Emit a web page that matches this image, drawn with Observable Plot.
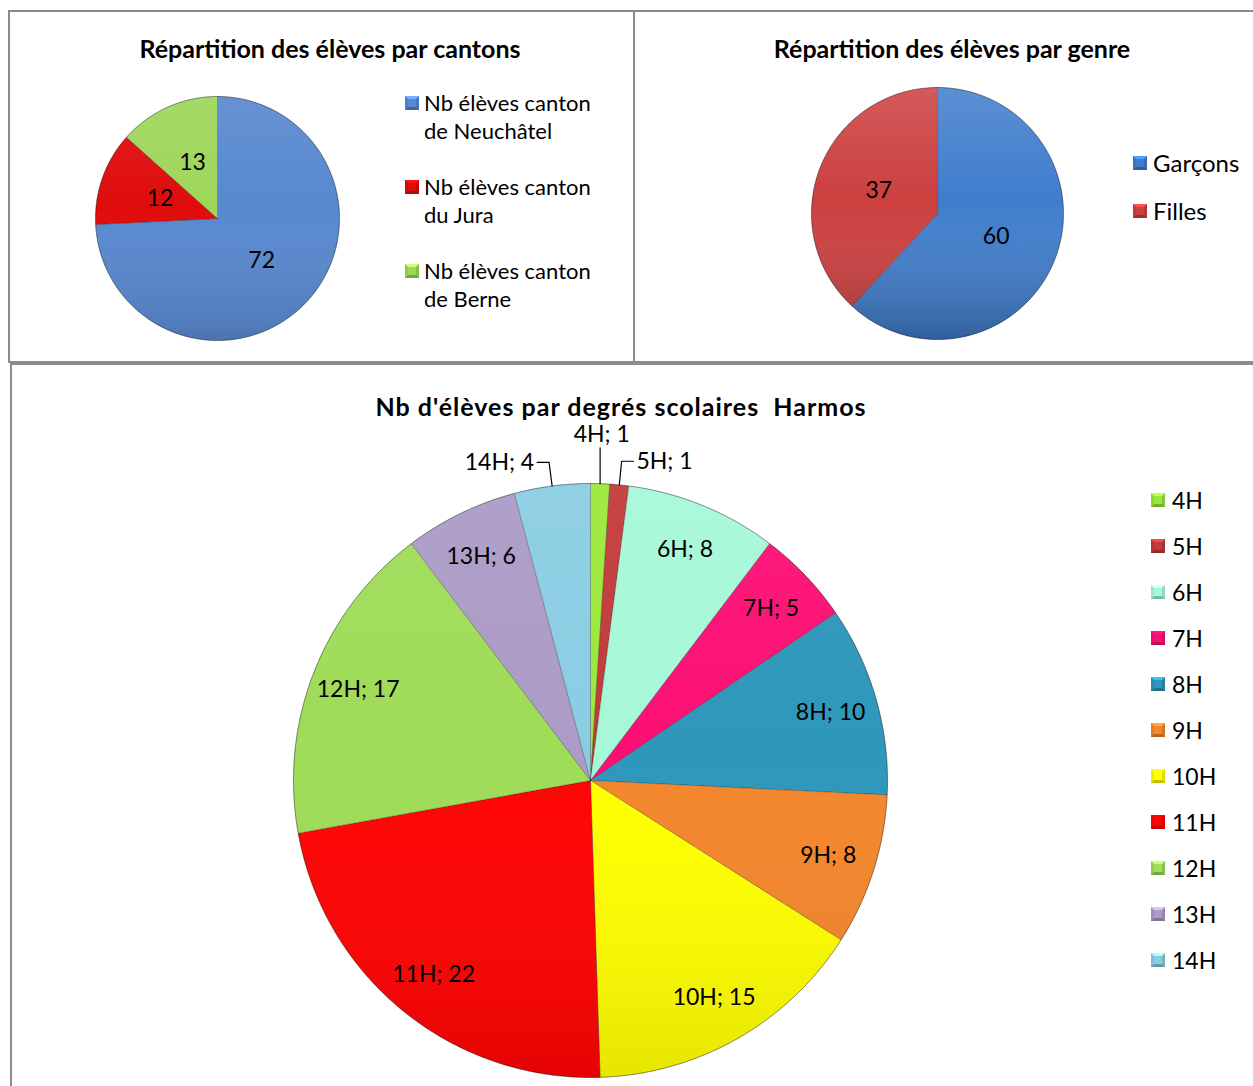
<!DOCTYPE html>
<html><head><meta charset="utf-8">
<script src="https://cdn.jsdelivr.net/npm/d3@7"></script>
<script src="https://cdn.jsdelivr.net/npm/@observablehq/plot@0.6"></script>
<style>
body{margin:0;background:#fff;width:1253px;height:1086px;overflow:hidden;position:relative;font-family:Lato,"Open Sans",sans-serif;color:#000;}
.panel{position:absolute;border:2px solid #8c8c8c;box-sizing:border-box;}
.title{position:absolute;font-weight:bold;font-size:25px;line-height:28px;transform:translateX(-50%);white-space:pre;}
.chart{position:absolute;}
.leg{position:absolute;font-size:22px;line-height:28px;white-space:normal;}
.sw{position:absolute;width:14px;height:14px;box-sizing:border-box;border:3px solid;}
</style></head><body>
<script>
// ---------- data ----------
const cantonLabels = ["Nb élèves canton de Neuchâtel", "Nb élèves canton du Jura", "Nb élèves canton de Berne"];
const cantonValues = [72, 12, 13];
const genreLabels = ["Garçons", "Filles"];
const genreValues = [60, 37];
const degreLabels = ["4H", "5H", "6H", "7H", "8H", "9H", "10H", "11H", "12H", "13H", "14H"];
const degreValues = [1, 1, 8, 5, 10, 8, 15, 22, 17, 6, 4];
const titles = ["Répartition des élèves par cantons", "Répartition des élèves par genre", "Nb d'élèves par degrés scolaires  Harmos"];

// ---------- styles ----------
const cantonColors = ["#5888cf", "#e00c0c", "#9ed65a"];
const genreColors = ["#3f7dcc", "#cc3f3f"];
const degreColors = ["#9be83a", "#c23a3a", "#a6f8d8", "#fc0f74", "#2e97bb", "#f4862c", "#ffff00", "#ff0303", "#9fdc58", "#ab9bc6", "#8acde3"];
const FONT = "Lato, 'Open Sans', sans-serif";

function el(tag, cls, style, text) {
  const e = document.createElement(tag);
  if (cls) e.className = cls;
  Object.assign(e.style, style || {});
  if (text != null) e.textContent = text;
  document.body.appendChild(e);
  return e;
}

// panels
el("div", "panel", {left: "8px", top: "10px", width: "627px", height: "353px"});
el("div", "panel", {left: "633px", top: "10px", width: "640px", height: "353px"});
el("div", "panel", {left: "10px", top: "363px", width: "1260px", height: "740px"});

// titles
el("div", "title", {left: "330px", top: "34px"}, titles[0]);
el("div", "title", {left: "952px", top: "34px"}, titles[1]);
el("div", "title", {left: "621px", top: "392px", letterSpacing: "1px"}, titles[2]);

function swatch(x, yc, color) {
  const c = d3.color(color);
  el("div", "sw", {
    left: x + "px", top: (yc - 7) + "px", background: color,
    borderTopColor: c.brighter(0.7).formatHex(),
    borderLeftColor: c.darker(0.2).formatHex(),
    borderRightColor: c.darker(0.4).formatHex(),
    borderBottomColor: c.darker(0.8).formatHex()
  });
}

function pie(opts) {
  const {id, labels, values, colors, cx, cy, r, box, labelR, fontSize, fmt, shade} = opts;
  const total = d3.sum(values);
  let cum = 0;
  const slices = values.map((v, i) => {
    const a0 = cum / total * 2 * Math.PI; cum += v;
    const a1 = cum / total * 2 * Math.PI;
    return {key: labels[i], value: v, a0, a1, mid: (a0 + a1) / 2, frac: v / total};
  });
  const pts = [];
  for (const s of slices) {
    pts.push({key: s.key, x: 0, y: 0});
    const n = Math.max(2, Math.ceil((s.a1 - s.a0) / (Math.PI / 360)));
    for (let k = 0; k <= n; k++) {
      const a = s.a0 + (s.a1 - s.a0) * k / n;
      pts.push({key: s.key, x: Math.sin(a), y: Math.cos(a)});
    }
    pts.push({key: s.key, x: 0, y: 0});
  }
  const circle = d3.range(0, 721).map(k => ({x: Math.sin(k / 720 * 2 * Math.PI), y: Math.cos(k / 720 * 2 * Math.PI)}));
  const inside = [], outside = [], leaders = [];
  for (const s of slices) {
    const sx = Math.sin(s.mid), cy_ = Math.cos(s.mid);
    if (opts.outsideBelow && s.frac < opts.outsideBelow) {
      if (Math.abs(sx) < 0.06) {
        leaders.push({key: s.key, x: sx, y: cy_}, {key: s.key, x: sx, y: 1.12});
        outside.push({x: sx * 1.165, y: 1.165, text: fmt(s), anchor: "middle"});
      } else {
        const side = sx > 0 ? 1 : -1;
        const p1 = {x: sx * 1.08, y: cy_ * 1.08};
        leaders.push({key: s.key, x: sx, y: cy_}, {key: s.key, ...p1}, {key: s.key, x: p1.x + side * 0.04, y: p1.y});
        outside.push({x: p1.x + side * 0.05, y: p1.y, text: fmt(s), anchor: side > 0 ? "start" : "end"});
      }
    } else {
      inside.push({x: sx * labelR, y: cy_ * labelR, text: fmt(s)});
    }
  }
  const marks = [
    Plot.line(pts, {x: "x", y: "y", z: "key", fill: "key", stroke: "rgba(0,0,0,0.28)", strokeWidth: 0.8, curve: "linear"}),
    Plot.line(circle, {x: "x", y: "y", fill: `url(#shade-${id})`, stroke: "rgba(0,0,0,0.25)", strokeWidth: 1}),
    Plot.text(inside, {x: "x", y: "y", text: "text", fontSize, fill: "black", fontFamily: FONT})
  ];
  if (leaders.length) {
    marks.push(Plot.line(leaders, {x: "x", y: "y", z: "key", stroke: "black", strokeWidth: 1.2}));
    for (const a of ["start", "middle", "end"]) {
      marks.push(Plot.text(outside.filter(d => d.anchor === a), {x: "x", y: "y", text: "text", textAnchor: a, fontSize, fill: "black", fontFamily: FONT}));
    }
  }
  const svg = Plot.plot({
    width: box.w, height: box.h,
    marginLeft: cx - r - box.x, marginRight: box.x + box.w - cx - r,
    marginTop: cy - r - box.y, marginBottom: box.y + box.h - cy - r,
    x: {domain: [-1, 1], axis: null},
    y: {domain: [-1, 1], axis: null},
    color: {domain: labels, range: colors},
    style: {background: "transparent", overflow: "visible", fontFamily: FONT},
    marks
  });
  d3.select(svg).insert("defs", ":first-child").html(
    `<linearGradient id="shade-${id}" x1="0" y1="0" x2="0" y2="1">
       <stop offset="0" stop-color="#fff" stop-opacity="${shade * 0.6}"/>
       <stop offset="0.45" stop-color="#fff" stop-opacity="0"/>
       <stop offset="1" stop-color="#000" stop-opacity="${shade}"/>
     </linearGradient>`);
  const holder = el("div", "chart", {left: box.x + "px", top: box.y + "px", width: box.w + "px", height: box.h + "px"});
  holder.appendChild(svg);
}

// chart 1: cantons
pie({id: "c", labels: cantonLabels, values: cantonValues, colors: cantonColors,
  cx: 217, cy: 218, r: 122, box: {x: 20, y: 80, w: 380, h: 278},
  labelR: 0.5, fontSize: 23, fmt: s => String(s.value), shade: 0.14});
cantonLabels.forEach((l, i) => {
  const yc = 103 + 84 * i;
  swatch(405, yc, cantonColors[i]);
  el("div", "leg", {left: "424px", top: (yc - 14) + "px", width: "180px"}, l);
});

// chart 2: genre
pie({id: "g", labels: genreLabels, values: genreValues, colors: genreColors,
  cx: 937, cy: 213, r: 126, box: {x: 660, y: 70, w: 440, h: 288},
  labelR: 0.5, fontSize: 23, fmt: s => String(s.value), shade: 0.24});
genreLabels.forEach((l, i) => {
  const yc = 163 + 48 * i;
  swatch(1133, yc, genreColors[i]);
  el("div", "leg", {left: "1153px", top: (yc - 14) + "px", width: "120px", fontSize: "24px"}, l);
});

// chart 3: degrés
pie({id: "d", labels: degreLabels, values: degreValues, colors: degreColors,
  cx: 590, cy: 780, r: 297, box: {x: 150, y: 425, w: 900, h: 660},
  labelR: 0.84, fontSize: 23, fmt: s => `${s.key}; ${s.value}`, shade: 0.1, outsideBelow: 0.05});
degreLabels.forEach((l, i) => {
  const yc = 500 + 46 * i;
  swatch(1151, yc, degreColors[i]);
  el("div", "leg", {left: "1172px", top: (yc - 14) + "px", width: "80px", fontSize: "23px"}, l);
});
</script>
</body></html>
